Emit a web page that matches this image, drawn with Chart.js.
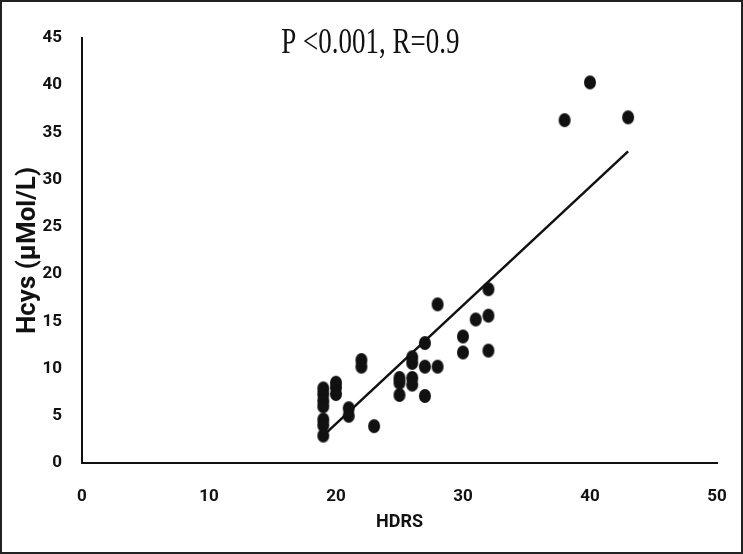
<!DOCTYPE html>
<html lang="en">
<head>
<meta charset="UTF-8">
<title>HDRS vs Hcys</title>
<style>
    body { margin: 0; background: #fff; }
    .frame {
        width: 743px;
        height: 554px;
        background: #fff;
        box-shadow: inset 0 0 0 2px #222;
    }
    canvas { display: block; }
</style>
</head>
<body>
<div class="frame">
    <canvas id="scatter" width="743" height="554"></canvas>
</div>
<script src="https://cdn.jsdelivr.net/npm/chart.js"></script>
<script>
// HDRS score (x) and homocysteine level (y)
const hdrs = [19, 19, 19, 19, 19, 19, 19,
              20, 20, 20,
              21, 21,
              22, 22,
              23,
              25, 25, 25,
              26, 26, 26, 26,
              27, 27, 27,
              28, 28,
              30, 30,
              31,
              32, 32, 32,
              38, 40, 43];
const hcys = [7.9, 7.3, 6.6, 6.0, 4.6, 4.0, 2.9,
              8.5, 8.0, 7.3,
              5.8, 5.0,
              10.9, 10.2,
              3.9,
              9.0, 8.5, 7.2,
              11.2, 10.6, 9.0, 8.3,
              12.7, 10.2, 7.1,
              16.8, 10.2,
              13.4, 11.7,
              15.2,
              18.4, 15.6, 11.9,
              36.3, 40.3, 36.6];

// fitted line end points
const fitX = [19, 43];
const fitY = [2.9, 33.0];

const xTicks = [0, 10, 20, 30, 40, 50];
const yTicks = [0, 5, 10, 15, 20, 25, 30, 35, 40, 45];

const titleText = "P <0.001, R=0.9";

// dots in the figure are slightly taller than wide
function makeDot() {
    const c = document.createElement("canvas");
    c.width = 14;
    c.height = 16;
    const g = c.getContext("2d");
    g.fillStyle = "#111";
    g.beginPath();
    g.ellipse(7, 8, 6, 7, 0, 0, Math.PI * 2);
    g.fill();
    return c;
}

const points = hdrs.map((x, i) => ({ x: x, y: hcys[i] }));
const fitLine = fitX.map((x, i) => ({ x: x, y: fitY[i] }));

// title drawn over the plot, stretched vertically like the source
const titlePlugin = {
    id: "pTitle",
    afterDraw(chart) {
        const ctx = chart.ctx;
        const x = chart.scales.x.getPixelForValue(22.7);
        ctx.save();
        ctx.translate(x, 53);
        ctx.scale(1, 1.35);
        ctx.font = "27px 'Liberation Serif', 'Times New Roman', serif";
        ctx.fillStyle = "#111";
        ctx.textAlign = "center";
        ctx.textBaseline = "alphabetic";
        ctx.fillText(titleText, 0, 0);
        ctx.restore();
    }
};

const ctx = document.getElementById("scatter").getContext("2d");
new Chart(ctx, {
    type: "scatter",
    data: {
        datasets: [
            {
                label: "Hcys",
                data: points,
                pointStyle: makeDot(),
                pointRadius: 7,
                pointHoverRadius: 7
            },
            {
                type: "line",
                label: "fit",
                data: fitLine,
                borderColor: "#111",
                borderWidth: 2.5,
                pointRadius: 0,
                fill: false
            }
        ]
    },
    options: {
        responsive: false,
        animation: false,
        layout: { padding: { top: 38, right: 26, left: 0, bottom: 0 } },
        plugins: {
            legend: { display: false },
            tooltip: { enabled: false }
        },
        scales: {
            x: {
                type: "linear",
                min: 0,
                max: 50,
                afterBuildTicks(scale) { scale.ticks = xTicks.map(v => ({ value: v })); },
                afterFit(scale) { scale.height = 91; },
                grid: { display: false },
                border: { display: true, color: "#111", width: 2 },
                ticks: {
                    padding: 16,
                    color: "#111",
                    font: { family: "Roboto", size: 17, weight: "bold" }
                },
                title: {
                    display: true,
                    text: "HDRS",
                    color: "#111",
                    padding: { top: 0, bottom: 21 },
                    font: { family: "Roboto", size: 18, weight: "bold" }
                }
            },
            y: {
                min: 0,
                max: 45,
                afterBuildTicks(scale) { scale.ticks = yTicks.map(v => ({ value: v })); },
                afterFit(scale) { scale.width = 82; },
                grid: { display: false },
                border: { display: true, color: "#111", width: 2 },
                ticks: {
                    padding: 12,
                    color: "#111",
                    font: { family: "Roboto", size: 17, weight: "bold" }
                },
                title: {
                    display: true,
                    text: "Hcys (µMol/L)",
                    color: "#111",
                    padding: { top: 13, bottom: 0 },
                    font: { family: "Roboto", size: 26, weight: "bold" }
                }
            }
        }
    },
    plugins: [titlePlugin]
});
</script>
</body>
</html>
